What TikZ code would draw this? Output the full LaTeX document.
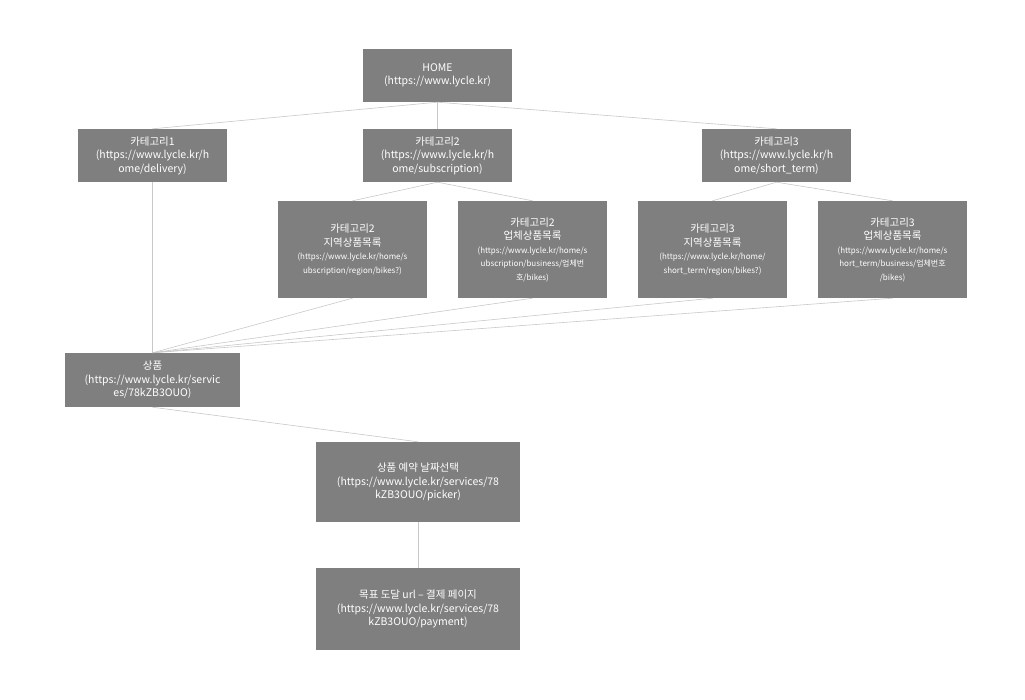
\documentclass[tikz,border=0pt]{standalone}
\usepackage{fontspec}
\setmainfont{Noto Sans CJK KR}
\begin{document}
\begin{tikzpicture}[x=1pt,y=-1pt,
  bx/.style={fill=gray!100!white,fill=boxgray,draw=none,text=white,align=center,inner sep=0pt,font=\fontsize{10.5}{13.5}\selectfont},
  sm/.style={font=\fontsize{8}{11}\selectfont},
  ln/.style={draw=linegray,line width=0.6pt}]
\definecolor{boxgray}{RGB}{127,127,127}
\definecolor{linegray}{RGB}{200,200,200}
\useasboundingbox (0,0) rectangle (1025,699);
\newcommand{\bxx}[6]{\node[bx,minimum width=#3-#2,minimum height=#5-#4] (#1) at ({(#2+#3)/2},{(#4+#5)/2}) {#6};}
\bxx{home}{363}{512}{49}{102}{HOME\\(https://www.lycle.kr)}
\bxx{c1}{78}{227}{129}{182}{카테고리1\\(https://www.lycle.kr/h\\ome/delivery)}
\bxx{c2}{363}{512}{129}{182}{카테고리2\\(https://www.lycle.kr/h\\ome/subscription)}
\bxx{c3}{702}{851}{129}{182}{카테고리3\\(https://www.lycle.kr/h\\ome/short\_term)}
\bxx{s1}{278}{427}{201}{298}{카테고리2\\지역상품목록\\{\fontsize{8}{11}\selectfont (https://www.lycle.kr/home/s}\\{\fontsize{8}{11}\selectfont ubscription/region/bikes?)}}
\bxx{s2}{458}{607}{201}{298}{카테고리2\\업체상품목록\\{\fontsize{8}{11}\selectfont (https://www.lycle.kr/home/s}\\{\fontsize{8}{11}\selectfont ubscription/business/업체번}\\{\fontsize{8}{11}\selectfont 호/bikes)}}
\bxx{s3}{638}{787}{201}{298}{카테고리3\\지역상품목록\\{\fontsize{8}{11}\selectfont (https://www.lycle.kr/home/}\\{\fontsize{8}{11}\selectfont short\_term/region/bikes?)}}
\bxx{s4}{818}{967}{201}{298}{카테고리3\\업체상품목록\\{\fontsize{8}{11}\selectfont (https://www.lycle.kr/home/s}\\{\fontsize{8}{11}\selectfont hort\_term/business/업체번호}\\{\fontsize{8}{11}\selectfont /bikes)}}
\bxx{p}{65}{240}{353}{407}{상품\\(https://www.lycle.kr/servic\\es/78kZB3OUO)}
\bxx{pk}{316}{520}{442}{522}{상품 예약 날짜선택\\(https://www.lycle.kr/services/78\\kZB3OUO/picker)}
\bxx{pay}{316}{520}{568}{650}{목표 도달 url – 결제 페이지\\(https://www.lycle.kr/services/78\\kZB3OUO/payment)}
\draw[ln] (home.south) -- (c1.north);
\draw[ln] (home.south) -- (c2.north);
\draw[ln] (home.south) -- (c3.north);
\draw[ln] (c2.south) -- (s1.north);
\draw[ln] (c2.south) -- (s2.north);
\draw[ln] (c3.south) -- (s3.north);
\draw[ln] (c3.south) -- (s4.north);
\draw[ln] (c1.south) -- (p.north);
\foreach \s in {s1,s2,s3,s4} \draw[ln] (\s.south) -- (p.north);
\draw[ln] (p.south) -- (pk.north);
\draw[ln] (pk.south) -- (pay.north);
\end{tikzpicture}
\end{document}
